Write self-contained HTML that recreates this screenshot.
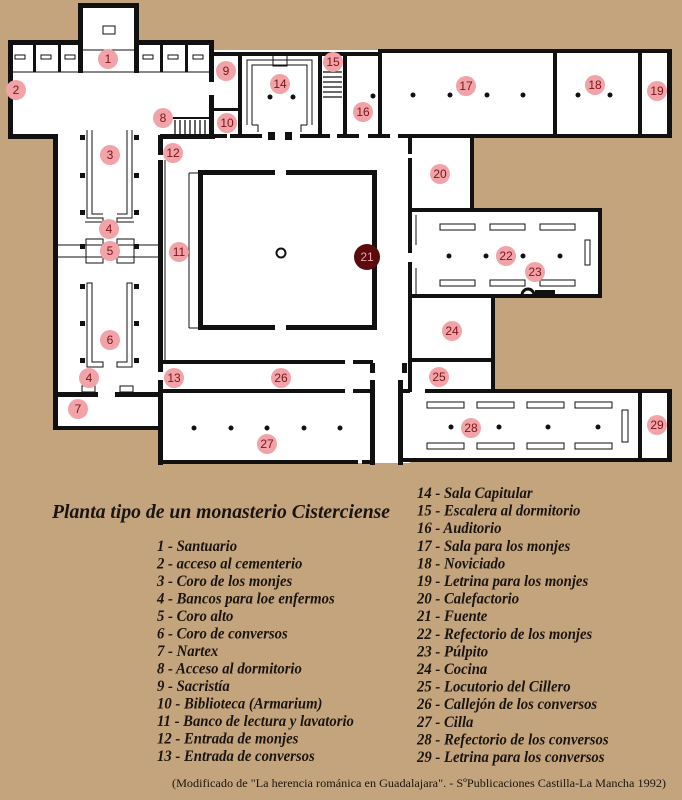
<!DOCTYPE html>
<html><head><meta charset="utf-8"><style>
html,body{margin:0;padding:0;background:#c4a47c;}
svg{display:block}
.t{font-family:"Liberation Serif",serif;font-style:italic;font-weight:bold;fill:#1a1410;}
.n{font-family:"Liberation Sans",sans-serif;font-size:12px;fill:#7a1418;text-anchor:middle;}
</style></head><body>
<svg width="682" height="800" viewBox="0 0 682 800" xmlns="http://www.w3.org/2000/svg">
<rect width="682" height="800" fill="#c4a47c"/>
<g fill="#fff">
<rect x="80" y="5" width="57" height="70"/>
<rect x="8" y="42" width="205" height="97"/>
<rect x="55" y="135" width="107" height="293"/>
<rect x="160" y="135" width="250" height="230"/>
<rect x="210" y="50" width="460" height="88"/>
<rect x="410" y="135" width="62" height="77"/>
<rect x="410" y="210" width="190" height="87"/>
<rect x="410" y="295" width="85" height="97"/>
<rect x="160" y="360" width="250" height="103"/>
<rect x="400" y="390" width="270" height="72"/>
</g>
<g fill="#111">
<rect x="78" y="3" width="61" height="5"/><rect x="78" y="3" width="5" height="70"/><rect x="134" y="3" width="5" height="70"/>
<rect x="8" y="40" width="72" height="5"/><rect x="134" y="40" width="80" height="5"/>
<rect x="8" y="40" width="5" height="99"/><rect x="8" y="134" width="50" height="5"/>
<rect x="33" y="42" width="3" height="30"/><rect x="58" y="42" width="3" height="30"/>
<rect x="160" y="42" width="3" height="30"/><rect x="185" y="42" width="3" height="30"/>
<rect x="209" y="42" width="5" height="40"/><rect x="209" y="95" width="5" height="43"/>
<rect x="53" y="135" width="5" height="295"/><rect x="158" y="135" width="5" height="20"/><rect x="158" y="160" width="5" height="212"/><rect x="158" y="380" width="5" height="50"/>
<rect x="53" y="392" width="45" height="5"/><rect x="115" y="392" width="47" height="5"/>
<rect x="53" y="426" width="110" height="4"/>
<rect x="80" y="135" width="5" height="5"/><rect x="80" y="173" width="5" height="5"/><rect x="80" y="210" width="5" height="5"/>
<rect x="134" y="135" width="5" height="5"/><rect x="134" y="173" width="5" height="5"/><rect x="134" y="210" width="5" height="5"/>
<rect x="80" y="244" width="5" height="5"/><rect x="134" y="244" width="5" height="5"/>
<rect x="80" y="284" width="5" height="5"/><rect x="80" y="321" width="5" height="5"/><rect x="80" y="358" width="5" height="5"/>
<rect x="134" y="284" width="5" height="5"/><rect x="134" y="321" width="5" height="5"/><rect x="134" y="358" width="5" height="5"/>
<rect x="160" y="134" width="55" height="5"/>
<rect x="210" y="52" width="170" height="4"/><rect x="378" y="49" width="294" height="4"/>
<rect x="210" y="108" width="30" height="3"/>
<rect x="238" y="52" width="4" height="86"/><rect x="318" y="52" width="4" height="86"/><rect x="343" y="52" width="4" height="86"/><rect x="378" y="49" width="4" height="89"/>
<rect x="553" y="49" width="4" height="86"/><rect x="638" y="49" width="4" height="86"/><rect x="667" y="49" width="5" height="89"/>
<rect x="212" y="134" width="15" height="4"/><rect x="230" y="134" width="32" height="4"/><rect x="268" y="132" width="7" height="8"/><rect x="285" y="132" width="7" height="8"/>
<rect x="300" y="134" width="30" height="4"/><rect x="337" y="134" width="22" height="4"/><rect x="368" y="134" width="22" height="4"/><rect x="398" y="134" width="274" height="4"/>
<rect x="408" y="134" width="4" height="20"/><rect x="408" y="158" width="4" height="95"/><rect x="408" y="262" width="4" height="130"/>
<rect x="470" y="135" width="4" height="77"/>
<rect x="408" y="208" width="194" height="4"/><rect x="598" y="208" width="4" height="90"/>
<rect x="408" y="294" width="194" height="4"/>
<rect x="491" y="295" width="4" height="97"/>
<rect x="408" y="358" width="87" height="4"/>
<rect x="198" y="170" width="77" height="5"/><rect x="286" y="170" width="91" height="5"/>
<rect x="198" y="325" width="77" height="5"/><rect x="286" y="325" width="91" height="5"/>
<rect x="198" y="170" width="5" height="160"/><rect x="372" y="170" width="5" height="160"/>
<rect x="160" y="360" width="185" height="4"/><rect x="353" y="360" width="20" height="4"/>
<rect x="370" y="363" width="5" height="10"/><rect x="402" y="363" width="5" height="10"/>
<rect x="160" y="389" width="185" height="4"/><rect x="353" y="389" width="22" height="4"/>
<rect x="398" y="389" width="12" height="4"/><rect x="425" y="389" width="247" height="4"/>
<rect x="370" y="380" width="5" height="85"/><rect x="398" y="380" width="5" height="85"/>
<rect x="158" y="389" width="5" height="76"/><rect x="158" y="460" width="200" height="4"/><rect x="362" y="460" width="13" height="4"/><rect x="400" y="458" width="272" height="4"/>
<rect x="638" y="390" width="4" height="70"/><rect x="667" y="389" width="5" height="73"/>
<rect x="170" y="117" width="40" height="2"/>
</g>
<g fill="none" stroke="#111" stroke-width="1">
<line x1="80" y1="50" x2="137" y2="50"/><line x1="13" y1="72" x2="209" y2="72"/>
<rect x="103" y="26" width="12" height="8"/>
<rect x="15" y="55" width="10" height="4"/><rect x="41" y="55" width="10" height="4"/><rect x="65" y="55" width="10" height="4"/>
<rect x="143" y="55" width="10" height="4"/><rect x="168" y="55" width="10" height="4"/><rect x="193" y="55" width="10" height="4"/>
<path d="M87 130 V218 H103 V222 H85"/><path d="M92 130 V214 H103"/>
<path d="M132 130 V218 H117 V222 H134"/><path d="M127 130 V214 H117"/>
<line x1="58" y1="245" x2="158" y2="245"/><line x1="58" y1="257" x2="158" y2="257"/>
<rect x="86" y="239" width="17" height="24"/><rect x="117" y="239" width="17" height="24"/>
<path d="M87 283 V367 H103 V362 H92 V283 Z"/><path d="M132 283 V367 H117 V362 H127 V283 Z"/>
<rect x="82" y="386" width="13" height="6"/><rect x="120" y="386" width="13" height="6"/>
<line x1="165" y1="160" x2="165" y2="360"/><line x1="189" y1="173" x2="189" y2="328"/><line x1="189" y1="173" x2="198" y2="173"/><line x1="189" y1="328" x2="198" y2="328"/>
<path d="M247 125 V60 H312 V125"/><path d="M252 125 V65 H307 V125"/><rect x="273" y="54" width="14" height="12"/>
<path d="M252 125 H258 V132 M307 125 H301 V132"/>
<rect x="440" y="224" width="35" height="6"/><rect x="490" y="224" width="35" height="6"/><rect x="540" y="224" width="35" height="6"/>
<rect x="440" y="280" width="35" height="6"/><rect x="490" y="280" width="35" height="6"/><rect x="540" y="280" width="35" height="6"/>
<rect x="585" y="240" width="5" height="25"/>
<line x1="416" y1="215" x2="416" y2="245"/><line x1="416" y1="268" x2="416" y2="294"/>
<rect x="427" y="402" width="37" height="6"/><rect x="477" y="402" width="37" height="6"/><rect x="527" y="402" width="37" height="6"/><rect x="575" y="402" width="37" height="6"/>
<rect x="427" y="443" width="37" height="6"/><rect x="477" y="443" width="37" height="6"/><rect x="527" y="443" width="37" height="6"/><rect x="575" y="443" width="37" height="6"/>
<rect x="622" y="410" width="6" height="32"/>
<circle cx="281" cy="253" r="4.5" stroke-width="2"/>
</g>
<g stroke="#111" stroke-width="1.3">
<line x1="323" y1="72" x2="342" y2="72"/><line x1="323" y1="77" x2="342" y2="77"/><line x1="323" y1="82" x2="342" y2="82"/><line x1="323" y1="87" x2="342" y2="87"/><line x1="323" y1="92" x2="342" y2="92"/><line x1="323" y1="97" x2="342" y2="97"/>
<line x1="175" y1="120" x2="175" y2="134"/><line x1="180" y1="120" x2="180" y2="134"/><line x1="185" y1="120" x2="185" y2="134"/><line x1="190" y1="120" x2="190" y2="134"/><line x1="195" y1="120" x2="195" y2="134"/><line x1="200" y1="120" x2="200" y2="134"/><line x1="205" y1="120" x2="205" y2="134"/>
</g>
<path d="M522 295 a6 6 0 0 1 12 0" fill="none" stroke="#111" stroke-width="3"/>
<rect x="535" y="290" width="20" height="5" fill="#111"/>
<g fill="#111">
<circle cx="270" cy="97" r="2.5"/><circle cx="293" cy="97" r="2.5"/><circle cx="373" cy="96" r="2.5"/>
<circle cx="413" cy="95" r="2.5"/><circle cx="450" cy="95" r="2.5"/><circle cx="487" cy="95" r="2.5"/><circle cx="523" cy="95" r="2.5"/>
<circle cx="578" cy="95" r="2.5"/><circle cx="610" cy="95" r="2.5"/>
<circle cx="449" cy="256" r="2.5"/><circle cx="486" cy="256" r="2.5"/><circle cx="523" cy="256" r="2.5"/><circle cx="560" cy="256" r="2.5"/>
<circle cx="194" cy="428" r="2.5"/><circle cx="231" cy="428" r="2.5"/><circle cx="267" cy="428" r="2.5"/><circle cx="304" cy="428" r="2.5"/><circle cx="340" cy="428" r="2.5"/>
<circle cx="451" cy="427" r="2.5"/><circle cx="499" cy="427" r="2.5"/><circle cx="548" cy="427" r="2.5"/><circle cx="598" cy="427" r="2.5"/>
</g>
<circle cx="367" cy="257" r="13" fill="#5a0c0c"/>
<g fill="#f2a3a8">
<circle cx="108" cy="59" r="10"/><circle cx="16" cy="90" r="10"/><circle cx="110" cy="155" r="10"/><circle cx="109" cy="229" r="10"/><circle cx="110" cy="251" r="10"/><circle cx="110" cy="340" r="10"/><circle cx="89" cy="378" r="10"/><circle cx="78" cy="409" r="10"/>
<circle cx="163" cy="118" r="10"/><circle cx="226" cy="71" r="10"/><circle cx="227" cy="123" r="10"/><circle cx="179" cy="252" r="10"/><circle cx="173" cy="153" r="10"/><circle cx="174" cy="378" r="10"/>
<circle cx="280" cy="84" r="10"/><circle cx="333" cy="62" r="10"/><circle cx="363" cy="112" r="10"/><circle cx="466" cy="86" r="10"/><circle cx="595" cy="85" r="10"/><circle cx="657" cy="91" r="10"/>
<circle cx="440" cy="174" r="10"/><circle cx="506" cy="256" r="10"/><circle cx="535" cy="272" r="10"/><circle cx="452" cy="331" r="10"/><circle cx="439" cy="377" r="10"/>
<circle cx="281" cy="378" r="10"/><circle cx="267" cy="444" r="10"/><circle cx="471" cy="428" r="10"/><circle cx="657" cy="425" r="10"/>
</g>
<g class="n">
<text x="108" y="63">1</text><text x="16" y="94">2</text><text x="110" y="159">3</text><text x="109" y="233">4</text><text x="110" y="255">5</text><text x="110" y="344">6</text><text x="89" y="382">4</text><text x="78" y="413">7</text>
<text x="163" y="122">8</text><text x="226" y="75">9</text><text x="227" y="127">10</text><text x="179" y="256">11</text><text x="173" y="157">12</text><text x="174" y="382">13</text>
<text x="280" y="88">14</text><text x="333" y="66">15</text><text x="363" y="116">16</text><text x="466" y="90">17</text><text x="595" y="89">18</text><text x="657" y="95">19</text>
<text x="440" y="178">20</text><text x="367" y="261" fill="#f2a3a8">21</text><text x="506" y="260">22</text><text x="535" y="276">23</text><text x="452" y="335">24</text><text x="439" y="381">25</text>
<text x="281" y="382">26</text><text x="267" y="448">27</text><text x="471" y="432">28</text><text x="657" y="429">29</text>
</g>
<text class="t" x="52" y="518" font-size="20" textLength="338" lengthAdjust="spacingAndGlyphs">Planta tipo de un monasterio Cisterciense</text>
<g class="t" font-size="16" transform="translate(157,0) scale(0.92,1)">
<text x="0" y="551">1 - Santuario</text>
<text x="0" y="568.5">2 - acceso al cementerio</text>
<text x="0" y="586">3 - Coro de los monjes</text>
<text x="0" y="603.5">4 - Bancos para loe enfermos</text>
<text x="0" y="621">5 - Coro alto</text>
<text x="0" y="638.5">6 - Coro de conversos</text>
<text x="0" y="656">7 - Nartex</text>
<text x="0" y="673.5">8 - Acceso al dormitorio</text>
<text x="0" y="691">9 - Sacristía</text>
<text x="0" y="708.5">10 - Biblioteca (Armarium)</text>
<text x="0" y="726">11 - Banco de lectura y lavatorio</text>
<text x="0" y="743.5">12 - Entrada de monjes</text>
<text x="0" y="761">13 - Entrada de conversos</text>
</g>
<g class="t" font-size="16" transform="translate(417,0) scale(0.92,1)">
<text x="0" y="498">14 - Sala Capitular</text>
<text x="0" y="515.6">15 - Escalera al dormitorio</text>
<text x="0" y="533.2">16 - Auditorio</text>
<text x="0" y="550.8">17 - Sala para los monjes</text>
<text x="0" y="568.4">18 - Noviciado</text>
<text x="0" y="586">19 - Letrina para los monjes</text>
<text x="0" y="603.6">20 - Calefactorio</text>
<text x="0" y="621.2">21 - Fuente</text>
<text x="0" y="638.8">22 - Refectorio de los monjes</text>
<text x="0" y="656.4">23 - Púlpito</text>
<text x="0" y="674">24 - Cocina</text>
<text x="0" y="691.6">25 - Locutorio del Cillero</text>
<text x="0" y="709.2">26 - Callejón de los conversos</text>
<text x="0" y="726.8">27 - Cilla</text>
<text x="0" y="744.4">28 - Refectorio de los conversos</text>
<text x="0" y="762">29 - Letrina para los conversos</text>
</g>
<text x="172" y="787" font-family="Liberation Serif, serif" font-size="12" fill="#1a1410" textLength="494" lengthAdjust="spacingAndGlyphs">(Modificado de "La herencia románica en Guadalajara". - SºPublicaciones Castilla-La Mancha 1992)</text>
</svg>
</body></html>
